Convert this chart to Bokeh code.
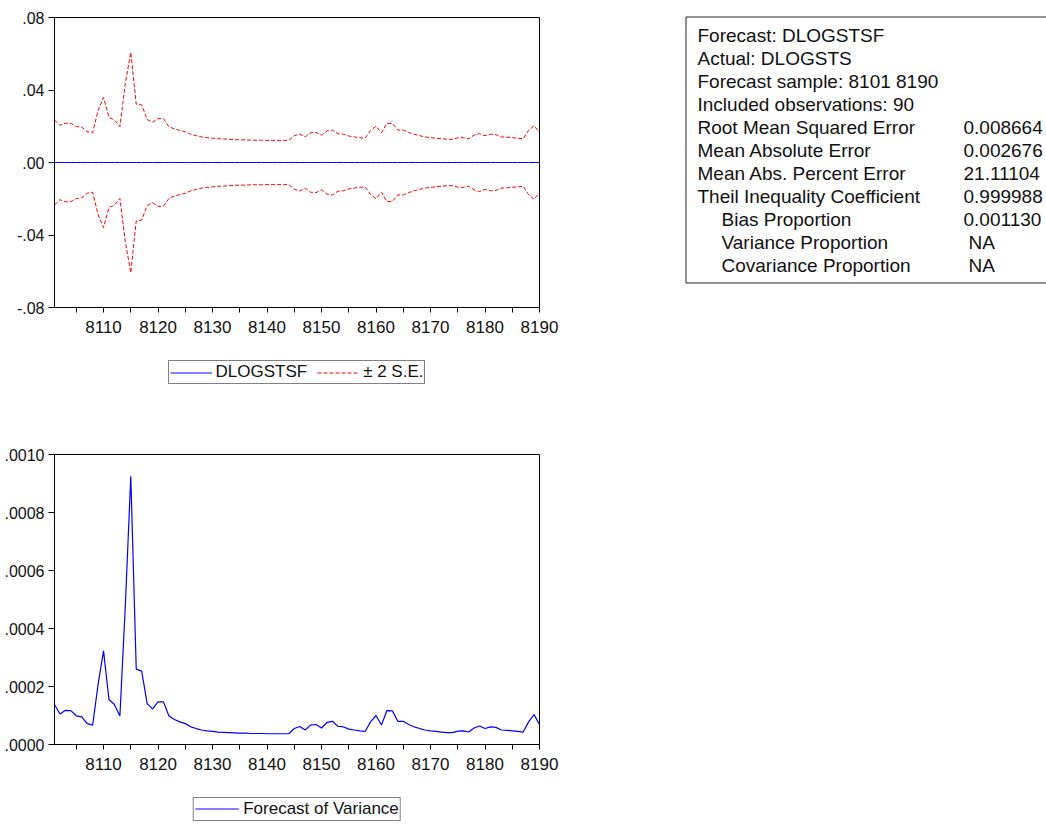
from bokeh.plotting import figure
from bokeh.layouts import column, row
from bokeh.models import (Range1d, FixedTicker, CustomJSTickFormatter, Legend,
                          LegendItem, ColumnDataSource)
from bokeh.core.properties import value
from bokeh.embed import file_html
from bokeh.resources import INLINE

# ---- data -------------------------------------------------------------
periods = list(range(8101, 8191))

# point forecast of DLOGSTS (flat at zero)
forecast = [
    0.0, 0.0, 0.0, 0.0, 0.0, 0.0, 0.0, 0.0, 0.0, 0.0,
    0.0, 0.0, 0.0, 0.0, 0.0, 0.0, 0.0, 0.0, 0.0, 0.0,
    0.0, 0.0, 0.0, 0.0, 0.0, 0.0, 0.0, 0.0, 0.0, 0.0,
    0.0, 0.0, 0.0, 0.0, 0.0, 0.0, 0.0, 0.0, 0.0, 0.0,
    0.0, 0.0, 0.0, 0.0, 0.0, 0.0, 0.0, 0.0, 0.0, 0.0,
    0.0, 0.0, 0.0, 0.0, 0.0, 0.0, 0.0, 0.0, 0.0, 0.0,
    0.0, 0.0, 0.0, 0.0, 0.0, 0.0, 0.0, 0.0, 0.0, 0.0,
    0.0, 0.0, 0.0, 0.0, 0.0, 0.0, 0.0, 0.0, 0.0, 0.0,
    0.0, 0.0, 0.0, 0.0, 0.0, 0.0, 0.0, 0.0, 0.0, 0.0,
]

# two standard errors of the forecast
two_se = [
    0.0235, 0.0205, 0.0217, 0.0216, 0.0199, 0.0195, 0.0170, 0.0164, 0.0288, 0.0359,
    0.0249, 0.0235, 0.0198, 0.0438, 0.0608, 0.0322, 0.0318, 0.0237, 0.0222, 0.0242,
    0.0242, 0.0198, 0.0185, 0.0177, 0.0170, 0.0156, 0.0148, 0.0141, 0.0137, 0.0134,
    0.0131, 0.0130, 0.0128, 0.0126, 0.0125, 0.0125, 0.0123, 0.0123, 0.0123, 0.0122,
    0.0122, 0.0122, 0.0122, 0.0122, 0.0148, 0.0157, 0.0141, 0.0164, 0.0166, 0.0151,
    0.0174, 0.0179, 0.0159, 0.0156, 0.0146, 0.0141, 0.0137, 0.0134, 0.0177, 0.0200,
    0.0164, 0.0216, 0.0215, 0.0179, 0.0179, 0.0166, 0.0156, 0.0148, 0.0141, 0.0137,
    0.0134, 0.0131, 0.0128, 0.0128, 0.0136, 0.0137, 0.0131, 0.0151, 0.0160, 0.0148,
    0.0156, 0.0154, 0.0141, 0.0140, 0.0137, 0.0134, 0.0131, 0.0177, 0.0203, 0.0166,
]

# forecast of variance
variance = [
    0.000138, 0.000105, 0.000118, 0.000117, 0.000099, 0.000095, 0.000072, 0.000067, 0.000207, 0.000323,
    0.000155, 0.000138, 0.000098, 0.000480, 0.000925, 0.000260, 0.000253, 0.000141, 0.000123, 0.000147,
    0.000147, 0.000098, 0.000086, 0.000078, 0.000072, 0.000061, 0.000055, 0.000050, 0.000047, 0.000045,
    0.000043, 0.000042, 0.000041, 0.000040, 0.000039, 0.000039, 0.000038, 0.000038, 0.000038, 0.000037,
    0.000037, 0.000037, 0.000037, 0.000037, 0.000055, 0.000062, 0.000050, 0.000067, 0.000069, 0.000057,
    0.000076, 0.000080, 0.000063, 0.000061, 0.000053, 0.000050, 0.000047, 0.000045, 0.000078, 0.000100,
    0.000067, 0.000117, 0.000116, 0.000080, 0.000080, 0.000069, 0.000061, 0.000055, 0.000050, 0.000047,
    0.000045, 0.000043, 0.000041, 0.000041, 0.000046, 0.000047, 0.000043, 0.000057, 0.000064, 0.000055,
    0.000061, 0.000059, 0.000050, 0.000049, 0.000047, 0.000045, 0.000043, 0.000078, 0.000103, 0.000069,
]

band_ticks = [-0.08, -0.04, 0.0, 0.04, 0.08]
var_ticks = [0.0, 0.0002, 0.0004, 0.0006, 0.0008, 0.0010]
major_x_ticks = [8110, 8120, 8130, 8140, 8150, 8160, 8170, 8180, 8190]
minor_x_ticks = [8105, 8115, 8125, 8135, 8145, 8155, 8165, 8175, 8185]

stat_labels = [
    "Forecast: DLOGSTSF",
    "Actual: DLOGSTS",
    "Forecast sample: 8101 8190",
    "Included observations: 90",
    "Root Mean Squared Error",
    "Mean Absolute Error",
    "Mean Abs. Percent Error",
    "Theil Inequality Coefficient",
    "Bias Proportion",
    "Variance Proportion",
    "Covariance Proportion",
]
stat_values = ["", "", "", "", "0.008664", "0.002676", "21.11104",
               "0.999988", "0.001130", "NA", "NA"]
stat_indent = [False] * 8 + [True] * 3

FONT = "Liberation Sans"

upper = [f + s for f, s in zip(forecast, two_se)]
lower = [f - s for f, s in zip(forecast, two_se)]

src = ColumnDataSource(dict(t=periods, f=forecast, up=upper, lo=lower, v=variance))

STYLE_F = dict(line_color="#0000FF", line_width=1)
STYLE_SE = dict(line_color="#FF0000", line_width=1, line_dash="4 2")
STYLE_V = dict(line_color="#0000FF", line_width=1.2)


def style_axes(p, yticks, decimals):
    p.grid.visible = False
    p.outline_line_color = "black"
    p.outline_line_width = 1
    p.background_fill_color = "white"
    p.border_fill_color = "white"
    xa = p.xaxis[0]
    xa.ticker = FixedTicker(ticks=major_x_ticks, minor_ticks=minor_x_ticks)
    xa.major_tick_out = 5
    xa.major_tick_in = 0
    xa.minor_tick_out = 5
    xa.minor_tick_in = 0
    xa.major_label_standoff = 8
    xa.major_label_text_font_size = "17px"
    ya = p.yaxis[0]
    ya.ticker = FixedTicker(ticks=yticks, minor_ticks=[])
    ya.major_tick_out = 6
    ya.major_tick_in = 0
    ya.minor_tick_out = 0
    ya.minor_tick_in = 0
    ya.major_label_standoff = 4
    ya.major_label_text_font_size = "16px"
    ya.formatter = CustomJSTickFormatter(code="""
        const s = Math.abs(tick).toFixed(%d).replace(/^0/, '');
        return tick < 0 ? '-' + s : s;
    """ % decimals)
    for ax in (xa, ya):
        ax.axis_line_color = "black"
        ax.major_tick_line_color = "black"
        ax.minor_tick_line_color = "black"
        ax.major_label_text_font = FONT
        ax.major_label_text_color = "#111111"


def legend_strip(height, entries, glyph_width, standoff):
    """A bare strip holding a boxed horizontal legend for the chart above it."""
    f = figure(width=560, height=height, x_range=Range1d(0, 1),
               y_range=Range1d(0, 1), output_backend="svg",
               toolbar_location=None, x_axis_type=None, y_axis_type=None,
               min_border=0)
    f.grid.visible = False
    f.outline_line_color = None
    f.background_fill_color = "white"
    f.border_fill_color = "white"
    items = []
    for label, col, style in entries:
        r = f.line("t", col, source=src, **style)
        items.append(LegendItem(label=label, renderers=[r]))
    f.add_layout(Legend(items=items, orientation="horizontal", location="center",
                        label_text_font=FONT, label_text_font_size="17px",
                        label_text_color="#111111", label_standoff=standoff,
                        spacing=10, glyph_width=glyph_width, glyph_height=17,
                        label_height=17, border_line_color="black",
                        border_line_width=1, background_fill_color="white",
                        background_fill_alpha=1.0, margin=0, padding=1))
    return f


# ---- upper panel: forecast with +/- 2 S.E. ----------------------------
p1 = figure(width=560, height=345, x_range=Range1d(8101, 8190),
            y_range=Range1d(-0.08, 0.08), output_backend="svg",
            toolbar_location=None, min_border_left=54, min_border_right=21,
            min_border_top=17, min_border_bottom=38)
style_axes(p1, band_ticks, 2)
p1.line("t", "f", source=src, **STYLE_F)
p1.line("t", "up", source=src, **STYLE_SE)
p1.line("t", "lo", source=src, **STYLE_SE)

leg1 = legend_strip(54, [("DLOGSTSF", "f", STYLE_F),
                         ("± 2 S.E.", "up", STYLE_SE)], 42, 4)

# ---- lower panel: forecast of variance --------------------------------
p2 = figure(width=560, height=389, x_range=Range1d(8101, 8190),
            y_range=Range1d(0, 0.0010), output_backend="svg",
            toolbar_location=None, min_border_left=54, min_border_right=21,
            min_border_top=55, min_border_bottom=44)
style_axes(p2, var_ticks, 4)
p2.line("t", "v", source=src, **STYLE_V)

leg2 = legend_strip(41, [("Forecast of Variance", "v", STYLE_V)], 44, 5)

# ---- forecast evaluation table ----------------------------------------
pt = figure(width=486, height=392, x_range=Range1d(0, 486),
            y_range=Range1d(392, 0), output_backend="svg",
            toolbar_location=None, x_axis_type=None, y_axis_type=None,
            min_border=0)
pt.grid.visible = False
pt.outline_line_color = None
pt.background_fill_color = "white"
pt.border_fill_color = "white"

box_left, box_top, box_bottom = 125.5, 16.5, 282.5
pt.quad(left=[box_left], right=[520], top=[box_top], bottom=[box_bottom],
        fill_color=None, line_color="#222222", line_width=1)

row_y = [35 + 23 * i for i in range(len(stat_labels))]
label_x = [161 if ind else 137 for ind in stat_indent]
value_x = [408 if v == "NA" else 403 for v in stat_values]
pt.text(x=label_x, y=row_y, text=stat_labels, text_font=value(FONT),
        text_font_size="19px", text_baseline="middle", text_color="#111111")
pt.text(x=value_x, y=row_y, text=stat_values, text_font=value(FONT),
        text_font_size="19px", text_baseline="middle", text_color="#111111")

layout = row(column(p1, leg1, p2, leg2), pt)

with open("out.html", "w") as fh:
    fh.write(file_html(layout, INLINE))
